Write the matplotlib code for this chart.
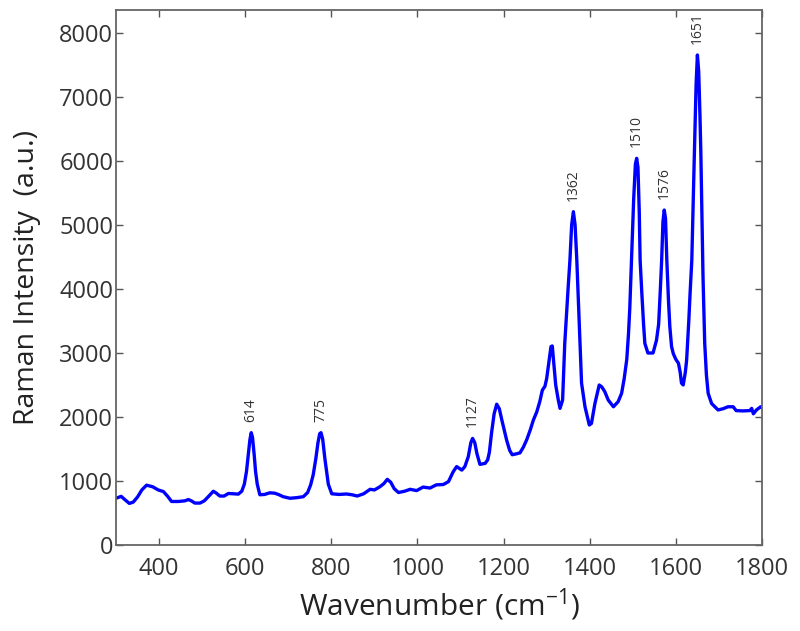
import matplotlib
matplotlib.use('Agg')
import matplotlib.pyplot as pyplot

# Raman spectrum (wavenumber in cm-1, intensity in a.u.)
wavenumber = [300, 312, 322, 331, 340, 350, 360, 371, 385, 398, 410, 420, 429, 445, 460, 468, 475, 483, 495, 505,
	515, 526, 533, 541, 551, 561, 572, 584, 592, 598, 603, 607, 611, 614, 617, 621, 624, 628, 634, 645,
	657, 668, 677, 688, 704, 720, 735, 745, 752, 758, 764, 769, 773, 776, 780, 785, 789, 793, 801, 818,
	835, 848, 860, 875, 890, 900, 913, 922, 930, 938, 946, 956, 970, 983, 998, 1013, 1029, 1044, 1060, 1072,
	1083, 1091, 1103, 1110, 1118, 1124, 1128, 1133, 1138, 1145, 1157, 1163, 1167, 1172, 1178, 1184, 1190, 1196, 1207, 1214,
	1220, 1230, 1238, 1246, 1254, 1262, 1269, 1277, 1284, 1290, 1296, 1300, 1305, 1310, 1313, 1316, 1321, 1327, 1331, 1337,
	1342, 1346, 1350, 1354, 1358, 1362, 1366, 1370, 1376, 1381, 1389, 1399, 1404, 1412, 1422, 1428, 1435, 1443, 1455, 1466,
	1474, 1480, 1486, 1490, 1493, 1497, 1502, 1506, 1509, 1512, 1515, 1517, 1521, 1525, 1528, 1535, 1547, 1555, 1560, 1564,
	1567, 1570, 1573, 1576, 1579, 1583, 1586, 1590, 1594, 1600, 1606, 1610, 1613, 1617, 1622, 1625, 1630, 1633, 1637, 1640,
	1643, 1647, 1650, 1653, 1656, 1658, 1661, 1663, 1667, 1671, 1675, 1683, 1698, 1710, 1721, 1733, 1740, 1755, 1772, 1776,
	1780, 1787, 1797, 1800]
intensity = [730, 760, 700, 650, 670, 750, 860, 935, 910, 860, 835, 760, 680, 680, 690, 710, 690, 655, 655, 690,
	760, 840, 810, 765, 765, 805, 800, 795, 840, 950, 1150, 1400, 1650, 1755, 1680, 1400, 1150, 950, 785, 790,
	815, 810, 790, 755, 730, 740, 755, 820, 940, 1100, 1350, 1600, 1740, 1755, 1650, 1350, 1150, 950, 800, 790,
	797, 785, 765, 800, 870, 860, 911, 960, 1026, 980, 880, 820, 840, 870, 850, 905, 890, 940, 945, 990,
	1145, 1225, 1170, 1225, 1380, 1600, 1665, 1600, 1430, 1260, 1275, 1330, 1450, 1750, 2050, 2200, 2130, 1950, 1640, 1480,
	1410, 1425, 1440, 1530, 1650, 1800, 1950, 2080, 2240, 2420, 2480, 2600, 2850, 3100, 3110, 2880, 2500, 2265, 2135, 2265,
	3150, 3600, 4035, 4450, 5000, 5208, 5000, 4450, 3410, 2530, 2160, 1875, 1900, 2210, 2500, 2470, 2395, 2265, 2160, 2240,
	2370, 2600, 2900, 3300, 3700, 4450, 5400, 5950, 6042, 5900, 5200, 4450, 3930, 3450, 3150, 3000, 3000, 3200, 3450, 4000,
	4450, 5050, 5234, 5100, 4450, 3800, 3410, 3100, 2990, 2900, 2840, 2700, 2530, 2500, 2700, 2890, 3500, 3930, 4450, 5300,
	6125, 7200, 7656, 7400, 6700, 6125, 5000, 4200, 3150, 2650, 2370, 2210, 2110, 2130, 2160, 2160, 2100, 2095, 2100, 2135,
	2050, 2110, 2160, 2150]

peak_labels = ['614', '775', '1127', '1362', '1510', '1576', '1651']
peak_x = [614, 776, 1128, 1362, 1509, 1573, 1650]
peak_y = [1755, 1755, 1665, 5208, 6042, 5234, 7656]

pyplot.rcParams['font.family'] = ['Open Sans', 'DejaVu Sans']
pyplot.rcParams['mathtext.fontset'] = 'custom'
pyplot.rcParams['mathtext.rm'] = 'Open Sans'
pyplot.rcParams['xtick.direction'] = 'in'
pyplot.rcParams['ytick.direction'] = 'in'

fig = pyplot.figure(figsize=(8, 6.31), dpi=100)
ax = fig.add_axes([0.145, 0.1363, 0.8075, 0.8479])

ax.plot(wavenumber, intensity, color='#0000ff', linewidth=2.4)

for lab, x, y in zip(peak_labels, peak_x, peak_y):
	ax.annotate(lab, (x, y), xytext=(0, 8), textcoords='offset points', rotation=90,
			ha='center', va='bottom', fontsize=10, color='#333333')

ax.set_xlim(300, 1800)
ax.set_ylim(0, 8360)
ax.set_xticks(range(400, 1801, 200))
ax.set_yticks(range(0, 8001, 1000))
ax.tick_params(axis='both', top=True, right=True, length=5, width=1, color='#555555', labelsize=17, labelcolor='#333333')
ax.tick_params(axis='x', pad=9)
ax.tick_params(axis='y', pad=2)
for s in ax.spines.values():
	s.set_color('#666666')
	s.set_linewidth(1.3)

ax.set_xlabel('Wavenumber (cm$^{\\mathregular{-1}}$)', fontsize=21.5, color='#222222', labelpad=4)
ax.set_ylabel('Raman Intensity  (a.u.)', fontsize=20.5, color='#222222', labelpad=13)

pyplot.savefig('out.png', dpi=100)
